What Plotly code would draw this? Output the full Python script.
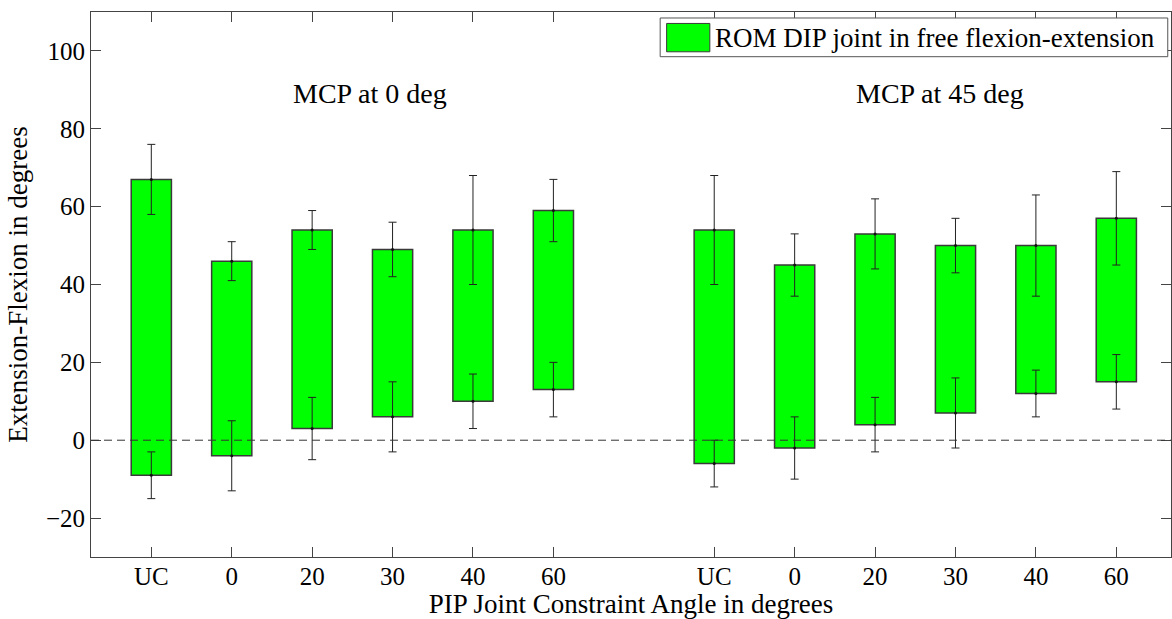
import plotly.graph_objects as go

# ---- data ----
constraints = ["UC", "0", "20", "30", "40", "60"]
groups = ["MCP at 0 deg", "MCP at 45 deg"]

max_mcp0 = [67, 46, 54, 49, 54, 59]
max_err_mcp0 = [9, 5, 5, 7, 14, 8]
min_mcp0 = [-9, -4, 3, 6, 10, 13]
min_err_mcp0 = [6, 9, 8, 9, 7, 7]

max_mcp45 = [54, 45, 53, 50, 50, 57]
max_err_mcp45 = [14, 8, 9, 7, 13, 12]
min_mcp45 = [-6, -2, 4, 7, 12, 15]
min_err_mcp45 = [6, 8, 7, 9, 6, 7]

legend_label = "ROM DIP joint in free flexion-extension"

# ---- build ----
FONT = "Liberation Serif, Times New Roman, serif"
GREEN = "#00ff00"
EDGE = "#3a3a3a"

maxs = [max_mcp0, max_mcp45]
max_errs = [max_err_mcp0, max_err_mcp45]
mins = [min_mcp0, min_mcp45]
min_errs = [min_err_mcp0, min_err_mcp45]

fig = go.Figure()
tickvals, ticktext = [], []
group_gap = len(constraints) + 1
for g in range(len(groups)):
    xs = [g * group_gap + i + 1 for i in range(len(constraints))]
    tickvals += xs
    ticktext += constraints
    fig.add_trace(go.Bar(
        x=xs, y=[a - b for a, b in zip(maxs[g], mins[g])], base=mins[g],
        width=0.5, marker=dict(color=GREEN, line=dict(color=EDGE, width=1.5)),
        showlegend=False, name=legend_label, hoverinfo="skip"))
    for vals, errs in ((maxs[g], max_errs[g]), (mins[g], min_errs[g])):
        fig.add_trace(go.Scatter(
            x=xs, y=vals, mode="markers",
            marker=dict(color="#111111", size=3),
            error_y=dict(type="data", array=errs, visible=True,
                         color="#222222", thickness=1, width=4),
            showlegend=False, hoverinfo="skip"))
    fig.add_annotation(x=g * group_gap + 2.74, y=89, xref="x", yref="y",
                       text=groups[g], showarrow=False, xanchor="left",
                       yanchor="middle", font=dict(family=FONT, size=28, color="black"))

# zero dashed line
fig.add_shape(type="line", xref="paper", yref="y", x0=0, x1=1, y0=0, y1=0,
              line=dict(color="#333333", width=1, dash="8px,5px"), layer="above")

# manual legend (box, swatch, label)
fig.add_shape(type="rect", xref="paper", yref="paper", x0=0.527, x1=0.997,
              y0=0.918, y1=0.989, fillcolor="white",
              line=dict(color="#555555", width=1), layer="above")
fig.add_shape(type="rect", xref="paper", yref="paper", x0=0.533, x1=0.573,
              y0=0.927, y1=0.979, fillcolor=GREEN,
              line=dict(color=EDGE, width=1), layer="above")
fig.add_annotation(xref="paper", yref="paper", x=0.576, y=0.953,
                   text=legend_label, showarrow=False, xanchor="left",
                   yanchor="middle", font=dict(family=FONT, size=27, color="black"))

axis_common = dict(showline=True, linecolor="#444444", linewidth=1, mirror="ticks",
                   ticks="inside", ticklen=10, tickcolor="#444444", showgrid=False,
                   zeroline=False, tickfont=dict(family=FONT, size=25, color="black"))

fig.update_layout(
    width=1172, height=619,
    margin=dict(l=91, r=1, t=12, b=62),
    paper_bgcolor="white", plot_bgcolor="white",
    barmode="overlay",
    xaxis=dict(range=[0.25, 13.68], tickvals=tickvals, ticktext=ticktext,
               ticklabelstandoff=-3,
               title=dict(text="PIP Joint Constraint Angle in degrees", standoff=0,
                          font=dict(family=FONT, size=27, color="black")),
               **axis_common),
    yaxis=dict(range=[-30, 110], tickvals=[-20, 0, 20, 40, 60, 80, 100],
               title=dict(text="Extension-Flexion in degrees", standoff=10,
                          font=dict(family=FONT, size=27, color="black")),
               **axis_common),
)

fig.write_html("out.html")
